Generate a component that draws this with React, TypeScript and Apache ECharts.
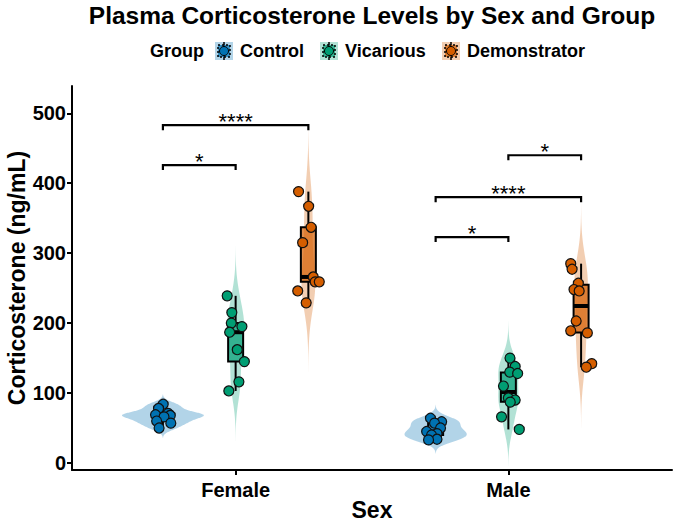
import React, { useEffect, useRef } from "react";
import * as echarts from "echarts";

const sexes = ["Female", "Male"];
const groups = ["Control", "Vicarious", "Demonstrator"];
const colors = ["#0072B2", "#009E73", "#D55E00"];

// values (ng/mL) and horizontal jitter offsets (x-axis units)
const femaleControl = [84, 78, 71, 69, 68, 66, 60, 57, 50];
const femaleControlJitter = [0.001, -0.016, 0.019, -0.027, 0.027, 0.004, -0.023, 0.029, -0.014];
const femaleVicarious = [239, 215, 200, 195, 187, 162, 145, 116, 103];
const femaleVicariousJitter = [-0.031, -0.014, -0.016, 0.023, -0.022, 0.006, 0.032, 0.012, -0.025];
const femaleDemonstrator = [388, 367, 337, 315, 266, 259, 259, 246, 229];
const femaleDemonstratorJitter = [-0.036, 0.001, 0.01, -0.021, 0.018, 0.025, 0.04, -0.039, -0.008];
const maleControl = [64, 59, 57, 50, 45, 42, 40, 34, 33];
const maleControlJitter = [-0.019, 0.022, -0.004, 0.018, -0.033, 0.005, -0.015, 0.005, -0.026];
const maleVicarious = [150, 138, 130, 128, 110, 93, 90, 87, 66, 48];
const maleVicariousJitter = [0.006, 0.025, 0.005, 0.034, -0.018, 0, 0.025, 0.007, -0.025, 0.04];
const maleDemonstrator = [285, 277, 257, 248, 246, 203, 189, 186, 142, 137];
const maleDemonstratorJitter = [-0.038, -0.033, -0.01, -0.026, -0.007, -0.018, -0.038, 0.023, 0.039, 0.019];

const yTicks = [0, 100, 200, 300, 400, 500];

// significance brackets
const bracketSex = [0, 0, 1, 1, 1];
const bracketFrom = [0, 0, 0, 0, 1];
const bracketTo = [1, 2, 1, 2, 2];
const bracketY = [426, 483, 323, 380, 440];
const bracketLabel = ["*", "****", "*", "****", "*"];

const allValues = [
  [femaleControl, femaleVicarious, femaleDemonstrator],
  [maleControl, maleVicarious, maleDemonstrator],
];
const allJitter = [
  [femaleControlJitter, femaleVicariousJitter, femaleDemonstratorJitter],
  [maleControlJitter, maleVicariousJitter, maleDemonstratorJitter],
];

const FONT = "'Liberation Sans', Arial, Helvetica, sans-serif";
const DODGE = 0.8 / 3;
const VIOLIN_HALF = 0.15;
const BOX_HALF = 0.0275;

const center = (s: number, g: number) => s + 1 + (g - 1) * DODGE;

function quantile(sorted: number[], p: number) {
  const h = (sorted.length - 1) * p;
  const lo = Math.floor(h);
  const hi = Math.min(lo + 1, sorted.length - 1);
  return sorted[lo] + (h - lo) * (sorted[hi] - sorted[lo]);
}

function boxStats(vals: number[]) {
  const s = [...vals].sort((a, b) => a - b);
  const q1 = quantile(s, 0.25);
  const med = quantile(s, 0.5);
  const q3 = quantile(s, 0.75);
  const iqr = q3 - q1;
  const lo = Math.min(...s.filter((v) => v >= q1 - 1.5 * iqr));
  const hi = Math.max(...s.filter((v) => v <= q3 + 1.5 * iqr));
  return { lo, q1, med, q3, hi };
}

function bwNrd0(vals: number[]) {
  const n = vals.length;
  const mean = vals.reduce((a, b) => a + b, 0) / n;
  const sd = Math.sqrt(vals.reduce((a, b) => a + (b - mean) ** 2, 0) / (n - 1));
  const s = [...vals].sort((a, b) => a - b);
  const iqr = quantile(s, 0.75) - quantile(s, 0.25);
  const lo = Math.min(sd, iqr / 1.34);
  return 0.9 * lo * Math.pow(n, -0.2);
}

function kde(vals: number[]) {
  const bw = bwNrd0(vals);
  const min = Math.min(...vals) - 3 * bw;
  const max = Math.max(...vals) + 3 * bw;
  const out: number[][] = [];
  const N = 200;
  for (let i = 0; i <= N; i++) {
    const y = min + ((max - min) * i) / N;
    let d = 0;
    for (const v of vals) {
      const z = (y - v) / bw;
      d += Math.exp(-0.5 * z * z);
    }
    d /= vals.length * bw * Math.sqrt(2 * Math.PI);
    out.push([y, d]);
  }
  return out;
}

function withAlpha(hex: string, a: number) {
  const r = parseInt(hex.slice(1, 3), 16);
  const g = parseInt(hex.slice(3, 5), 16);
  const b = parseInt(hex.slice(5, 7), 16);
  return `rgba(${r},${g},${b},${a})`;
}

export default function App() {
  const ref = useRef<HTMLDivElement>(null);
  useEffect(() => {
    if (!ref.current) return;
    const chart = echarts.init(ref.current, null, { renderer: "svg" });

    const kdes = allValues.map((row) => row.map((v) => kde(v)));
    let maxD = 0;
    kdes.forEach((row) => row.forEach((k) => k.forEach((p) => (maxD = Math.max(maxD, p[1])))));
    const stats = allValues.map((row) => row.map((v) => boxStats(v)));

    const items: number[][] = [];
    for (let s = 0; s < 2; s++) for (let g = 0; g < 3; g++) items.push([center(s, g), stats[s][g].med, s, g]);

    const violinSeries = {
      type: "custom",
      z: 1,
      silent: true,
      clip: false,
      data: items,
      renderItem: (params: any, api: any) => {
        const s = api.value(2);
        const g = api.value(3);
        const cx = center(s, g);
        const k = kdes[s][g];
        const pts: number[][] = [];
        for (const p of k) pts.push(api.coord([cx + (p[1] / maxD) * VIOLIN_HALF, p[0]]));
        for (let i = k.length - 1; i >= 0; i--) pts.push(api.coord([cx - (k[i][1] / maxD) * VIOLIN_HALF, k[i][0]]));
        return { type: "polygon", shape: { points: pts }, style: { fill: withAlpha(colors[g], 0.3), stroke: null } };
      },
    };

    const boxSeries = {
      type: "custom",
      z: 2,
      silent: true,
      data: items,
      renderItem: (params: any, api: any) => {
        const s = api.value(2);
        const g = api.value(3);
        const cx = center(s, g);
        const st = stats[s][g];
        const tl = api.coord([cx - BOX_HALF, st.q3]);
        const br = api.coord([cx + BOX_HALF, st.q1]);
        const top = api.coord([cx, st.hi]);
        const q3p = api.coord([cx, st.q3]);
        const q1p = api.coord([cx, st.q1]);
        const bot = api.coord([cx, st.lo]);
        const m = api.coord([cx, st.med]);
        const ls = { stroke: "#000", lineWidth: 2 };
        return {
          type: "group",
          children: [
            { type: "line", shape: { x1: top[0], y1: top[1], x2: q3p[0], y2: q3p[1] }, style: ls },
            { type: "line", shape: { x1: q1p[0], y1: q1p[1], x2: bot[0], y2: bot[1] }, style: ls },
            {
              type: "rect",
              shape: { x: tl[0], y: tl[1], width: br[0] - tl[0], height: br[1] - tl[1] },
              style: { fill: withAlpha(colors[g], 0.7), stroke: "#000", lineWidth: 2 },
            },
            { type: "line", shape: { x1: tl[0], y1: m[1], x2: br[0], y2: m[1] }, style: { stroke: "#000", lineWidth: 4 } },
          ],
        };
      },
    };

    const pointSeries = groups.map((name, g) => {
      const data: number[][] = [];
      for (let s = 0; s < 2; s++) {
        allValues[s][g].forEach((v, i) => data.push([center(s, g) + allJitter[s][g][i], v]));
      }
      return {
        type: "scatter",
        name,
        z: 3,
        silent: true,
        data,
        symbol: "circle",
        symbolSize: 10,
        itemStyle: { color: colors[g], borderColor: "#111", borderWidth: 1.2, opacity: 1 },
      };
    });

    const bracketSeries = {
      type: "custom",
      z: 4,
      silent: true,
      clip: false,
      data: bracketY.map((y, i) => [center(bracketSex[i], bracketFrom[i]), y, i]),
      renderItem: (params: any, api: any) => {
        const i = api.value(2);
        const x1 = center(bracketSex[i], bracketFrom[i]);
        const x2 = center(bracketSex[i], bracketTo[i]);
        const a = api.coord([x1, bracketY[i]]);
        const b = api.coord([x2, bracketY[i]]);
        return {
          type: "group",
          children: [
            {
              type: "polyline",
              shape: { points: [[a[0], a[1] + 5], [a[0], a[1]], [b[0], b[1]], [b[0], b[1] + 5]] },
              style: { stroke: "#000", lineWidth: 2.2, fill: null },
            },
            {
              type: "text",
              x: (a[0] + b[0]) / 2,
              y: a[1] - 4,
              style: {
                text: bracketLabel[i],
                fontSize: 22,
                fontFamily: FONT,
                fill: "#000",
                align: "center",
                verticalAlign: "middle",
              },
            },
          ],
        };
      },
    };

    const legendX = [215, 320, 442];
    const legendTextX = [240, 345, 467];
    const legendY = 51;
    const legendGraphics: any[] = [
      {
        type: "text",
        x: 150,
        y: legendY,
        style: { text: "Group", font: `bold 18px ${FONT}`, fill: "#000", verticalAlign: "middle" },
      },
    ];
    groups.forEach((name, g) => {
      const kx = legendX[g];
      legendGraphics.push(
        { type: "rect", shape: { x: kx, y: legendY - 9, width: 18, height: 18 }, style: { fill: withAlpha(colors[g], 0.3) } },
        { type: "line", shape: { x1: kx + 9, y1: legendY - 9, x2: kx + 9, y2: legendY + 9 }, style: { stroke: "#000", lineWidth: 1.5 } },
        {
          type: "rect",
          shape: { x: kx + 3, y: legendY - 6, width: 12, height: 12 },
          style: { fill: withAlpha(colors[g], 0.7), stroke: "#000", lineWidth: 1.5, lineDash: [2, 2] },
        },
        { type: "circle", shape: { cx: kx + 9, cy: legendY, r: 4.5 }, style: { fill: colors[g], stroke: "#000", lineWidth: 1 } },
        {
          type: "text",
          x: legendTextX[g],
          y: legendY,
          style: { text: name, font: `bold 18px ${FONT}`, fill: "#000", verticalAlign: "middle" },
        }
      );
    });

    const option = {
      animation: false,
      textStyle: { fontFamily: FONT },
      grid: { left: 72, right: 5, top: 86, bottom: 53, containLabel: false, outerBoundsMode: "none" },
      xAxis: {
        type: "value",
        min: 0.4,
        max: 2.6,
        splitLine: { show: false },
        axisLine: { show: true, onZero: false, lineStyle: { color: "#000", width: 2 } },
        axisTick: { show: true, customValues: [1, 2], length: 5, lineStyle: { color: "#000", width: 2 } },
        axisLabel: {
          customValues: [1, 2],
          formatter: (v: number) => sexes[Math.round(v) - 1],
          color: "#000",
          fontWeight: "bold",
          fontSize: 20,
          fontFamily: FONT,
          margin: 10,
        },
      },
      yAxis: {
        type: "value",
        min: -10,
        max: 539,
        splitLine: { show: false },
        axisLine: { show: true, onZero: false, lineStyle: { color: "#000", width: 2 } },
        axisTick: { show: true, customValues: yTicks, length: 5, lineStyle: { color: "#000", width: 2 } },
        axisLabel: {
          customValues: yTicks,
          color: "#000",
          fontWeight: "bold",
          fontSize: 20,
          fontFamily: FONT,
          margin: 6,
        },
      },
      graphic: [
        {
          type: "text",
          x: 372,
          y: 15,
          style: {
            text: "Plasma Corticosterone Levels by Sex and Group",
            font: `bold 24.5px ${FONT}`,
            fill: "#000",
            align: "center",
            verticalAlign: "middle",
          },
        },
        {
          type: "text",
          x: 372,
          y: 510,
          style: { text: "Sex", font: `bold 23px ${FONT}`, fill: "#000", align: "center", verticalAlign: "middle" },
        },
        {
          type: "text",
          x: 17,
          y: 278,
          rotation: Math.PI / 2,
          style: {
            text: "Corticosterone (ng/mL)",
            font: `bold 23px ${FONT}`,
            fill: "#000",
            align: "center",
            verticalAlign: "middle",
          },
        },
        ...legendGraphics,
      ],
      series: [violinSeries, boxSeries, ...pointSeries, bracketSeries],
    };
    chart.setOption(option as any);
    return () => chart.dispose();
  }, []);
  return (
    <div
      ref={ref}
      style={{ position: "fixed", left: 0, top: 0, width: 677, height: 523, background: "#fff" }}
    />
  );
}
